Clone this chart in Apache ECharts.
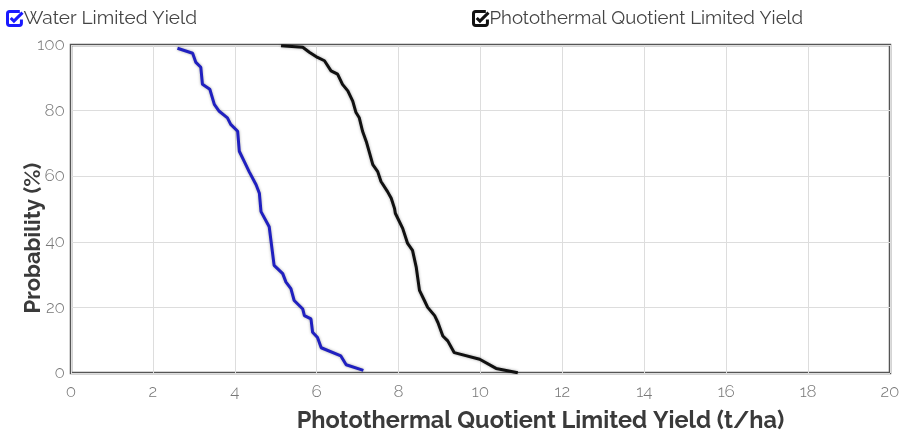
<!DOCTYPE html>
<html><head><meta charset="utf-8">
<script src="https://cdn.jsdelivr.net/npm/echarts@6/dist/echarts.min.js"></script>
<style>html,body{margin:0;padding:0;background:#fff;overflow:hidden}#c{width:899px;height:434px}</style>
</head><body><div id="c"></div>
<script>
var waterX = [2.60,2.97,3.05,3.17,3.21,3.39,3.50,3.62,3.82,3.90,4.07,4.11,4.23,4.35,4.52,4.60,4.64,4.84,4.96,5.17,5.25,5.37,5.45,5.66,5.70,5.86,5.90,6.02,6.11,6.59,6.72,7.14];
var waterY = [99.0,97.5,94.7,93.2,88.0,86.5,81.9,79.8,77.8,75.8,73.7,67.6,64.5,61.4,57.4,54.8,49.2,44.6,32.8,30.3,27.7,25.7,22.1,19.5,17.5,16.5,12.4,10.8,7.7,5.2,2.5,0.8];
var ptqX = [5.13,5.66,5.82,6.02,6.19,6.35,6.51,6.63,6.76,6.88,6.96,7.04,7.12,7.21,7.29,7.37,7.49,7.57,7.73,7.82,7.90,7.92,8.10,8.22,8.34,8.43,8.51,8.63,8.71,8.88,8.96,9.08,9.20,9.36,9.98,10.38,10.91];
var ptqY = [99.8,99.3,97.8,96.2,95.2,92.1,91.1,88.0,86.0,82.9,79.4,77.8,73.7,70.6,67.1,63.5,61.4,58.4,55.3,53.3,50.2,48.7,44.1,39.5,37.4,32.3,25.2,22.1,20.0,17.5,15.4,11.3,9.8,6.2,4.2,1.4,0.1];
var seriesNames = ['Water Limited Yield', 'Photothermal Quotient Limited Yield'];
var xTitle = 'Photothermal Quotient Limited Yield (t/ha)';
var yTitle = 'Probability (%)';

function pairs(xs, ys){ return xs.map(function(x,i){ return [x, ys[i]]; }); }
var checkIcon = 'path://M13,2 H3.5 Q1.5,2 1.5,4 V13 Q1.5,15 3.5,15 H12.5 Q14.5,15 14.5,13 V9.5 M4.5,8 L7.5,11 L15.5,3';
var font = 'Raleway, Lato, "Open Sans", sans-serif';
var chart = echarts.init(document.getElementById('c'));
chart.setOption({
  animation: false,
  legend: [
    {data: [seriesNames[0]], left: 1, top: 4, icon: checkIcon, itemWidth: 15, itemHeight: 15, itemGap: 2,
     itemStyle: {color: 'transparent', borderColor: '#1a1aff', borderWidth: 3},
     textStyle: {fontFamily: font, fontSize: 19, color: '#444', padding: [0,0,0,-4]}},
    {data: [seriesNames[1]], left: 467, top: 4, icon: checkIcon, itemWidth: 15, itemHeight: 15,
     itemStyle: {color: 'transparent', borderColor: '#111', borderWidth: 3},
     textStyle: {fontFamily: font, fontSize: 18.6, color: '#444', padding: [0,0,0,-4]}}
  ],
  graphic: [
    {type: 'text', x: 33, y: 238, rotation: Math.PI / 2,
     style: {text: yTitle, fontFamily: font, fontSize: 22, fontWeight: 'bold', fill: '#3a3a3a', align: 'center', verticalAlign: 'middle'}}
  ],
  grid: {left: 71, right: 9, top: 45, bottom: 61, show: true, borderColor: '#555', borderWidth: 2.5, backgroundColor: 'transparent',
    containLabel: false, outerBoundsMode: 'none'},
  xAxis: {type: 'value', min: 0, max: 20, interval: 2,
    name: xTitle, nameLocation: 'middle', nameGap: 36,
    nameTextStyle: {fontFamily: font, fontSize: 23.5, fontWeight: 'bold', color: '#3a3a3a', padding: [0,0,0,120]},
    axisLine: {show: false}, axisTick: {show: false},
    axisLabel: {fontFamily: font, fontSize: 17, fontWeight: 300, color: '#777', margin: 10},
    splitLine: {show: true, lineStyle: {color: '#ddd', width: 1}}},
  yAxis: {type: 'value', min: 0, max: 100, interval: 20,
    axisLine: {show: false}, axisTick: {show: false},
    axisLabel: {fontFamily: font, fontSize: 17, fontWeight: 300, color: '#777', margin: 6, padding: [6, 0, 0, 0]},
    splitLine: {show: true, lineStyle: {color: '#ddd', width: 1}}},
  series: [
    {name: seriesNames[0], type: 'line', data: pairs(waterX, waterY), showSymbol: false, symbol: 'none',
     color: '#1a1aff',
     lineStyle: {color: '#2020c0', width: 3, shadowColor: 'rgba(0,0,0,0.35)', shadowBlur: 3}},
    {name: seriesNames[1], type: 'line', data: pairs(ptqX, ptqY), showSymbol: false, symbol: 'none',
     color: '#111',
     lineStyle: {color: '#111', width: 3, shadowColor: 'rgba(0,0,0,0.35)', shadowBlur: 3}}
  ]
});
</script></body></html>
